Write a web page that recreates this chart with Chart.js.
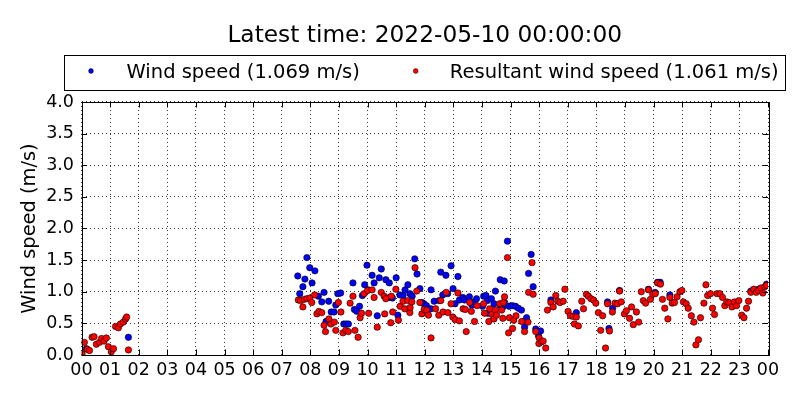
<!DOCTYPE html>
<html>
<head>
<meta charset="utf-8">
<script src="https://cdn.jsdelivr.net/npm/chart.js@4/dist/chart.umd.min.js"></script>
<style>
html,body{margin:0;padding:0;background:#fff;}
#wrap{width:800px;height:400px;position:relative;}
</style>
</head>
<body>
<div id="wrap"><canvas id="c"></canvas></div>
<script>
// ---- data (hours of day, m/s) ----
const titleText = "Latest time: 2022-05-10 00:00:00";
const seriesNames = ["Wind speed (1.069 m/s)", "Resultant wind speed (1.061 m/s)"];
const hourTicks = [0,1,2,3,4,5,6,7,8,9,10,11,12,13,14,15,16,17,18,19,20,21,22,23,24];
const hourLabels = ["00","01","02","03","04","05","06","07","08","09","10","11","12","13","14","15","16","17","18","19","20","21","22","23","00"];
const speedTicks = [0,0.5,1,1.5,2,2.5,3,3.5,4];

const windTimes = [0.17,1.64,7.56,7.63,7.74,7.81,7.88,7.98,8.06,8.16,8.28,8.40,8.48,8.55,8.64,8.73,8.83,8.89,8.96,9.06,9.17,9.25,9.33,9.49,9.54,9.62,9.72,9.82,9.90,9.98,10.03,
10.16,10.23,10.34,10.41,10.48,10.64,10.76,10.77,10.87,11.00,11.06,11.13,11.24,11.31,11.41,11.48,11.56,11.65,11.73,11.83,11.90,11.97,12.06,12.21,12.22,12.33,12.50,12.56,12.63,12.74,12.80,12.92,12.99,13.06,13.16,13.21,
13.33,13.39,13.56,13.65,13.72,13.81,14.02,14.06,14.14,14.19,14.21,14.33,14.42,14.47,14.63,14.64,14.73,14.78,14.79,14.89,14.95,15.06,15.17,15.27,15.38,15.49,15.50,15.56,15.63,15.72,15.79,15.88,15.98,16.05,16.41,17.30,18.39,18.44,18.57,18.81,19.82,20.05,20.14,20.23,20.57,23.40,23.67,23.95];
const windValues = [0.10,0.28,1.25,0.97,1.08,1.20,1.54,1.38,1.14,1.33,0.93,0.84,0.99,0.53,0.85,0.68,0.68,0.79,0.97,0.98,0.49,0.49,0.49,1.14,0.72,0.69,0.77,0.94,1.11,1.42,1.03,
1.26,1.14,0.62,1.22,1.36,1.19,1.14,0.91,0.90,1.22,0.63,0.95,0.94,1.03,1.11,0.97,0.93,1.52,1.28,1.05,0.83,0.81,0.78,0.73,1.03,0.85,0.86,1.31,0.95,1.26,0.97,1.41,1.05,0.81,1.24,0.87,
0.91,0.87,0.92,0.79,0.84,0.89,0.77,0.93,0.94,0.86,0.66,0.89,0.81,1.01,0.79,1.19,0.76,1.17,0.83,1.80,0.77,0.78,0.77,0.74,0.71,0.44,0.54,0.59,1.29,1.59,1.08,0.41,0.30,0.38,0.87,0.67,0.84,0.42,0.74,1.02,1.04,0.99,1.15,1.15,0.95,1.01,1.04,1.12];

const resTimes = [0.02,0.10,0.20,0.28,0.37,0.44,0.52,0.63,0.70,0.79,0.87,0.94,1.04,1.12,1.19,1.29,1.36,1.46,1.54,1.58,1.64,
7.58,7.66,7.74,7.79,7.88,7.98,8.05,8.15,8.23,8.30,8.40,8.48,8.53,8.65,8.72,8.84,8.89,8.98,9.07,9.14,9.24,9.33,9.39,9.49,9.56,9.67,9.74,9.79,9.88,10.00,10.04,
10.16,10.23,10.34,10.48,10.58,10.60,10.64,10.81,10.83,10.88,10.99,11.08,11.14,11.24,11.30,11.41,11.48,11.49,11.55,11.66,11.72,11.83,11.90,11.98,12.07,12.13,12.22,12.38,12.49,12.56,12.64,12.75,12.81,12.92,12.98,13.06,13.16,13.21,
13.34,13.42,13.45,13.57,13.63,13.74,13.83,14.06,14.09,14.24,14.27,14.35,14.42,14.47,14.51,14.62,14.69,14.73,14.75,14.79,14.89,14.93,14.96,15.07,15.11,15.19,15.39,15.49,15.61,15.63,15.75,15.79,15.88,15.99,16.00,16.08,16.14,16.23,
16.29,16.41,16.49,16.58,16.65,16.73,16.84,16.90,17.01,17.09,17.19,17.23,17.30,17.37,17.49,17.55,17.65,17.72,17.81,17.90,17.98,18.07,18.15,18.22,18.32,18.39,18.46,18.56,18.65,18.74,18.81,18.87,18.98,
19.05,19.16,19.23,19.29,19.40,19.48,19.57,19.64,19.72,19.82,19.89,19.97,20.06,20.14,20.24,20.31,20.39,20.50,20.57,20.65,20.73,20.82,20.92,20.99,
21.04,21.14,21.21,21.32,21.41,21.48,21.57,21.64,21.76,21.83,21.89,21.99,22.06,22.13,22.22,22.32,22.41,22.49,22.56,22.64,22.74,22.83,22.90,22.98,
23.08,23.16,23.25,23.32,23.40,23.50,23.59,23.67,23.75,23.82,23.89,23.95];
const resValues = [0.02,0.20,0.09,0.07,0.28,0.29,0.17,0.20,0.26,0.22,0.27,0.13,0.05,0.10,0.45,0.43,0.49,0.52,0.57,0.60,0.08,
0.87,0.86,0.76,0.88,0.89,0.90,0.83,0.95,0.65,0.69,0.67,0.47,0.37,0.57,0.49,0.52,0.39,0.83,0.68,0.35,0.39,0.37,0.82,0.93,0.39,0.28,0.59,0.66,0.97,1.02,0.66,
1.03,0.91,0.44,0.99,0.93,0.65,0.89,0.51,0.93,0.68,1.04,0.55,0.77,0.85,0.73,0.86,0.67,0.75,0.84,1.38,1.01,0.83,0.65,0.72,0.71,0.63,0.27,0.73,0.63,0.86,0.68,0.99,0.67,0.81,0.60,0.56,0.98,0.54,
0.73,0.72,0.37,0.83,0.69,0.53,0.78,0.81,0.66,0.53,0.73,0.64,0.57,0.71,0.63,0.81,0.71,0.58,0.83,0.92,1.54,0.35,0.59,0.42,0.55,0.62,0.53,0.37,0.52,0.99,1.46,0.96,0.37,0.18,0.27,0.21,0.22,0.11,
0.71,0.83,0.76,0.94,0.85,0.83,0.85,1.04,0.69,0.62,0.61,0.49,0.60,0.46,0.85,0.73,0.96,0.93,0.89,0.87,0.82,0.67,0.39,0.62,0.11,0.81,0.38,0.68,0.82,0.81,1.01,0.84,0.65,
0.70,0.58,0.76,0.48,0.68,0.52,1.00,0.86,0.82,1.03,0.88,0.96,0.97,1.14,1.12,0.88,0.74,0.57,0.91,0.82,0.83,0.92,1.00,1.02,
0.84,0.81,0.74,0.62,0.52,0.16,0.24,0.59,0.82,1.11,0.94,0.97,0.74,0.64,0.97,0.97,0.91,0.78,0.84,0.83,0.76,0.84,0.78,0.86,
0.63,0.59,0.74,0.85,0.99,1.04,0.99,1.02,1.06,0.98,1.08,1.10];

const seriesColors = ["#0000ff", "#ff0000"];

function toPoints(ts, vs){ return ts.map((t,i)=>({x:t, y:vs[i]})); }

const FONT = "DejaVu Sans";
Chart.defaults.font.family = FONT;
Chart.defaults.color = "#000";

// axes frame, inward ticks and a framed legend, drawn like matplotlib's
const frameLegend = {
  id: "frameLegend",
  afterDraw(chart){
    const ctx = chart.ctx;
    const a = chart.chartArea;
    const xs = chart.scales.x, ys = chart.scales.y;
    ctx.save();
    ctx.strokeStyle = "#000"; ctx.lineWidth = 1;
    ctx.beginPath();
    hourTicks.forEach(h=>{
      const px = Math.round(xs.getPixelForValue(h)) + 0.5;
      ctx.moveTo(px, a.bottom); ctx.lineTo(px, a.bottom - 5.5);
      ctx.moveTo(px, a.top); ctx.lineTo(px, a.top + 5.5);
    });
    speedTicks.forEach(v=>{
      const py = Math.round(ys.getPixelForValue(v)) + 0.5;
      ctx.moveTo(a.left, py); ctx.lineTo(a.left + 5.5, py);
      ctx.moveTo(a.right, py); ctx.lineTo(a.right - 5.5, py);
    });
    ctx.stroke();
    ctx.strokeRect(Math.round(a.left)+0.5, Math.round(a.top)+0.5, Math.round(a.right-a.left), Math.round(a.bottom-a.top));
    ctx.fillStyle = "#fff";
    ctx.fillRect(64.5, 55.5, 721, 35);
    ctx.strokeRect(64.5, 55.5, 721, 35);
    const items = [
      {mx: 91, tx: 126.5, label: seriesNames[0], color: seriesColors[0]},
      {mx: 415.7, tx: 449.8, label: seriesNames[1], color: seriesColors[1]}
    ];
    ctx.font = "19.5px '" + FONT + "'";
    ctx.textBaseline = "alphabetic";
    ctx.textAlign = "left";
    items.forEach(it=>{
      ctx.beginPath();
      ctx.arc(it.mx, 71, 2.4, 0, Math.PI*2);
      ctx.fillStyle = it.color; ctx.fill();
      ctx.lineWidth = 0.5; ctx.strokeStyle = "#000"; ctx.stroke();
      ctx.fillStyle = "#000";
      ctx.fillText(it.label, it.tx, 78.3);
    });
    ctx.restore();
  }
};

new Chart(document.getElementById("c"), {
  type: "scatter",
  plugins: [frameLegend],
  data: {
    datasets: [
      {
        label: seriesNames[0],
        data: toPoints(windTimes, windValues),
        backgroundColor: seriesColors[0],
        borderColor: "#000",
        borderWidth: 0.6,
        pointRadius: 3.2,
        order: 1,
        clip: 0
      },
      {
        label: seriesNames[1],
        data: toPoints(resTimes, resValues),
        backgroundColor: seriesColors[1],
        borderColor: "#000",
        borderWidth: 0.6,
        pointRadius: 3.2,
        order: 0,
        clip: 0
      }
    ]
  },
  options: {
    responsive: true,
    maintainAspectRatio: false,
    animation: false,
    layout: { padding: { left: 0, right: 32, top: 0, bottom: 0 } },
    plugins: {
      legend: { display: false },
      tooltip: { enabled: false },
      title: {
        display: true,
        fullSize: false,
        text: titleText,
        color: "#000",
        font: { family: FONT, size: 23.3, weight: "normal" },
        padding: { top: 21.5, bottom: 52.5 }
      }
    },
    scales: {
      x: {
        type: "linear",
        min: 0, max: 24,
        afterFit(s){ s.height = 45; },
        afterBuildTicks(s){ s.ticks = hourTicks.map(v=>({value:v})); },
        ticks: {
          autoSkip: false, maxRotation: 0,
          padding: 5,
          color: "#000",
          font: { family: FONT, size: 17.5 },
          callback: (v) => hourLabels[hourTicks.indexOf(v)]
        },
        grid: { color: "#000", lineWidth: 0.8, drawTicks: false },
        border: { display: false, dash: [1, 3] }
      },
      y: {
        min: 0, max: 4,
        afterFit(s){ s.width = 81.5; },
        afterBuildTicks(s){ s.ticks = speedTicks.map(v=>({value:v})); },
        ticks: {
          padding: 7.5,
          color: "#000",
          font: { family: FONT, size: 17.5 },
          callback: (v) => Number(v).toFixed(1)
        },
        title: {
          display: true,
          text: "Wind speed (m/s)",
          color: "#000",
          font: { family: FONT, size: 19.4 },
          padding: { top: 18, bottom: 0 }
        },
        grid: { color: "#000", lineWidth: 0.8, drawTicks: false },
        border: { display: false, dash: [1, 3] }
      }
    }
  }
});
</script>
</body>
</html>
